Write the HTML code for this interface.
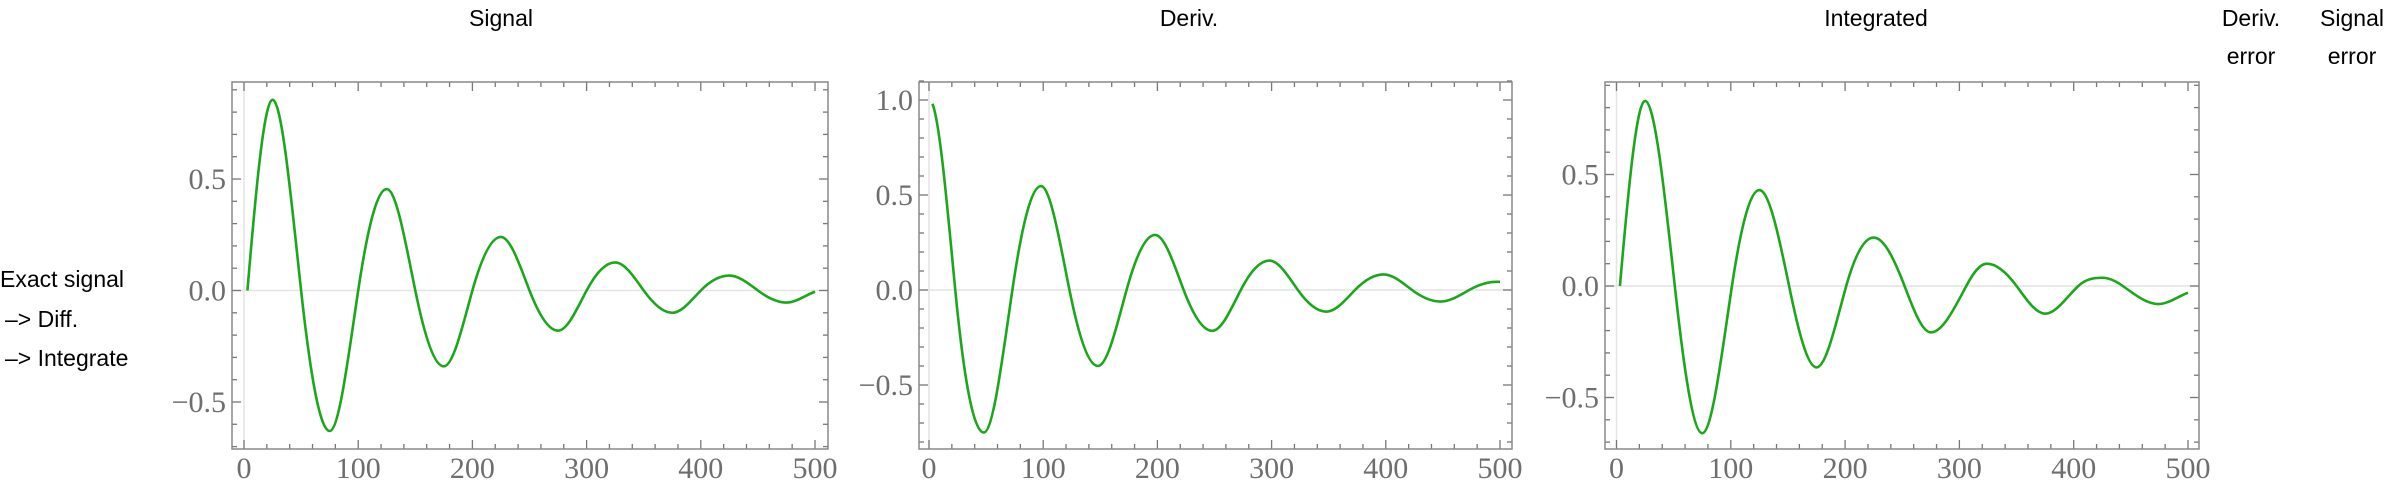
<!DOCTYPE html>
<html><head><meta charset="utf-8"><style>
html,body{margin:0;padding:0;background:#fff;}
svg{display:block;}
.t{font-family:"Liberation Sans",sans-serif;font-size:23px;fill:#000;}
.tk{font-family:"Liberation Serif",serif;font-size:30px;fill:#6e6e6e;}
</style></head><body>
<svg id="c" width="2400" height="488" viewBox="0 0 2400 488" xmlns="http://www.w3.org/2000/svg">
<text class="t" x="501" y="26" text-anchor="middle">Signal</text>
<text class="t" x="1189" y="26" text-anchor="middle">Deriv.</text>
<text class="t" x="1876" y="26" text-anchor="middle">Integrated</text>
<text class="t" x="2251" y="26" text-anchor="middle"><tspan x="2251" y="26">Deriv.</tspan><tspan x="2251" y="64">error</tspan></text>
<text class="t" x="2352" y="26" text-anchor="middle"><tspan x="2352" y="26">Signal</tspan><tspan x="2352" y="64">error</tspan></text>
<text class="t" x="0" y="287">Exact signal</text>
<text class="t" x="5" y="327">–&gt; Diff.</text>
<text class="t" x="5" y="366">–&gt; Integrate</text>
</svg>
<script>
const signalX=[3,25,50,75,100,125,150,175,200,225,250,275,300,325,350,375,400,425,450,475,500];
const signalY=[0,0.855,0,-0.63,0,0.455,0,-0.34,0,0.24,0,-0.18,0,0.126,0,-0.10,0,0.067,0,-0.054,-0.005];
const derivX=[3,23,48,73,98,123,148,173,198,223,248,273,298,323,348,373,398,423,448,473,497,500];
const derivY=[0.98,0,-0.75,0,0.547,0,-0.40,0,0.29,0,-0.215,0,0.155,0,-0.114,0,0.082,0,-0.061,0,0.043,0.043];
const integX=[3,25,51,75,101,125,151,175,201,225,252,275,306,324,350,375,404,425,443,474,500];
const integY=[0,0.83,0,-0.66,0,0.43,0,-0.365,0,0.217,0,-0.208,0,0.10,0,-0.124,0,0.037,0,-0.081,-0.03];
const xTicks=[0,100,200,300,400,500];
const yTicksA=[-0.5,0,0.5];
const yTicksB=[-0.5,0,0.5,1.0];
const yTickLabelsA=["\u22120.5","0.0","0.5"];
const yTickLabelsB=["\u22120.5","0.0","0.5","1.0"];

const NS="http://www.w3.org/2000/svg";
const svg=document.getElementById('c');
function mk(tag,attrs){const e=document.createElementNS(NS,tag);for(const k in attrs)e.setAttribute(k,attrs[k]);svg.appendChild(e);return e;}

// Hermite spline: zero slope at extrema, sine-like slope at crossings
function smoothPath(xs,ys,px,py){
  const n=px.length;const d=[],m=new Array(n);
  for(let i=0;i<n-1;i++)d.push((py[i+1]-py[i])/(px[i+1]-px[i]));
  const H=Math.PI/2;
  m[0]=Math.abs(ys[0])<1e-9?d[0]*H:d[0]*0.3;
  m[n-1]=Math.abs(d[n-2])<1e-9?0:d[n-2];
  for(let i=1;i<n-1;i++){ if(d[i-1]*d[i]<=0)m[i]=0; else m[i]=H*(d[i-1]+d[i])/2; }
  let p="M"+px[0].toFixed(2)+","+py[0].toFixed(2);
  for(let i=0;i<n-1;i++){const h=(px[i+1]-px[i])/3;
    p+="C"+(px[i]+h).toFixed(2)+","+(py[i]+m[i]*h).toFixed(2)+" "+(px[i+1]-h).toFixed(2)+","+(py[i+1]-m[i+1]*h).toFixed(2)+" "+px[i+1].toFixed(2)+","+py[i+1].toFixed(2);}
  return p;
}

function panel(o){
  const sx=v=>o.x0+v*(o.x500-o.x0)/500;
  const sy=v=>o.y0-v*o.ppu;
  let e=mk('line',{x1:sx(0),x2:sx(0),y1:o.top,y2:o.bot,stroke:'#e4e4e4','stroke-width':1.5});
  
  e=mk('line',{x1:o.left,x2:o.right,y1:sy(0),y2:sy(0),stroke:'#e4e4e4','stroke-width':1.5});
  
  const g=mk('g',{stroke:'#777','stroke-width':1.3});
  
  for(let v=0;v<=500;v+=20){const major=v%100===0,L=major?9:5,x=sx(v);
    [[o.bot,o.bot-L],[o.top,o.top+L]].forEach(([a,b])=>{const l=document.createElementNS(NS,'line');l.setAttribute('x1',x);l.setAttribute('x2',x);l.setAttribute('y1',a);l.setAttribute('y2',b);g.appendChild(l);});}
  for(let k=Math.ceil(o.ymin*10);k<=Math.floor(o.ymax*10);k++){const v=k/10,major=k%5===0,L=major?9:5,y=sy(v);
    [[o.left,o.left+L],[o.right,o.right-L]].forEach(([a,b])=>{const l=document.createElementNS(NS,'line');l.setAttribute('x1',a);l.setAttribute('x2',b);l.setAttribute('y1',y);l.setAttribute('y2',y);g.appendChild(l);});}
  e=mk('rect',{x:o.left,y:o.top,width:o.right-o.left,height:o.bot-o.top,fill:'none',stroke:'#888','stroke-width':1.5});
  
  xTicks.forEach(v=>{const t=mk('text',{class:'tk',x:sx(v),y:478,'text-anchor':'middle'});t.textContent=String(v);
    });
  o.yt.forEach((v,i)=>{const t=mk('text',{class:'tk',x:o.left-6,y:sy(v)+10,'text-anchor':'end'});t.textContent=o.ytl[i];
    });
  const p=mk('path',{d:smoothPath(o.xs,o.ys,o.xs.map(sx),o.ys.map(sy)),fill:'none',stroke:'#1aa81a','stroke-width':2.6,'stroke-linejoin':'round'});
  
}

panel({name:'signal',left:232,right:828,top:82,bot:449,x0:244,x500:815,y0:290.5,ppu:223,ymin:-0.71,ymax:0.94,xs:signalX,ys:signalY,yt:yTicksA,ytl:yTickLabelsA});
panel({name:'deriv',left:919,right:1512,top:82,bot:449,x0:929,x500:1500,y0:290,ppu:190,ymin:-0.84,ymax:1.1,xs:derivX,ys:derivY,yt:yTicksB,ytl:yTickLabelsB});
panel({name:'integrated',left:1605,right:2199,top:82,bot:449,x0:1616.5,x500:2188,y0:286,ppu:223,ymin:-0.73,ymax:0.92,xs:integX,ys:integY,yt:yTicksA,ytl:yTickLabelsA});
</script>
</body></html>
